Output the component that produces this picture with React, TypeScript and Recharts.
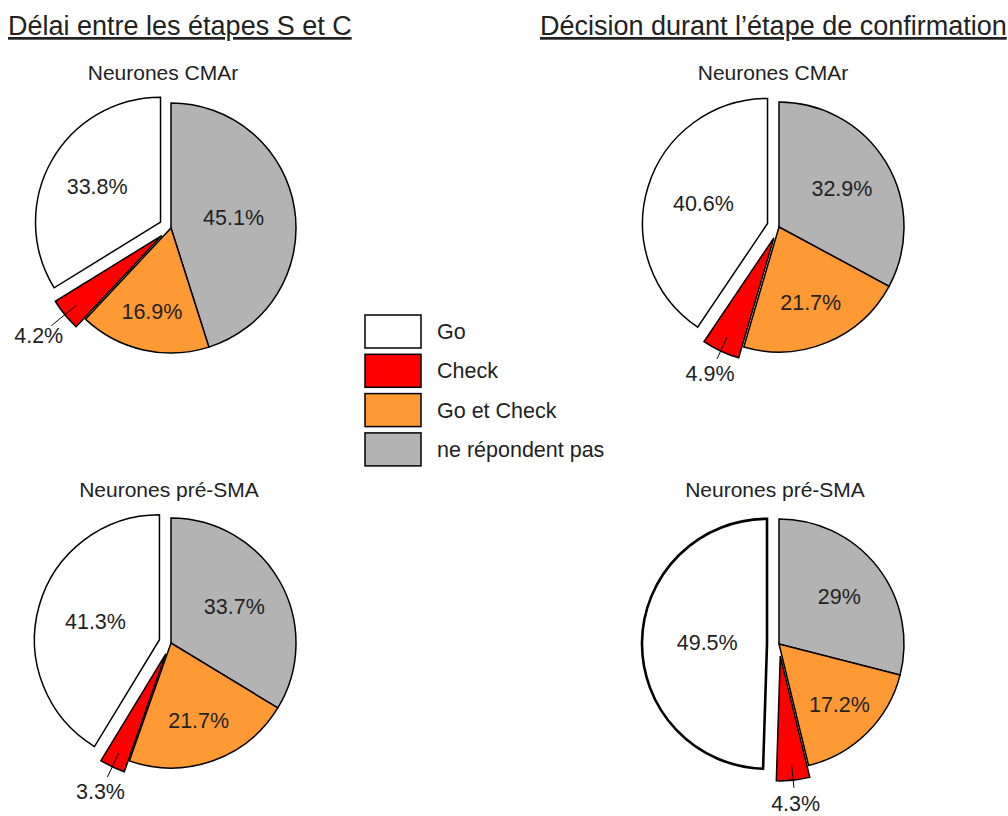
import React from "react";
import { PieChart, Pie, Cell } from "recharts";

// ---- Data ----
const legendCategories = ["Go", "Check", "Go et Check", "ne répondent pas"];
const sliceOrder = ["ne répondent pas", "Go et Check", "Check", "Go"];
const delaiCMAr = [45.1, 16.9, 4.2, 33.8];
const delaiPreSMA = [33.7, 21.7, 3.3, 41.3];
const decisionCMAr = [32.9, 21.7, 4.9, 40.6];
const decisionPreSMA = [29, 17.2, 4.3, 49.5];
const sectionTitles = ["Délai entre les étapes S et C", "Décision durant l’étape de confirmation"];
const chartTitles = ["Neurones CMAr", "Neurones pré-SMA"];
const explodedSlices = ["Go", "Check"];

// ---- Styles ----
const colorOf: Record<string, string> = {
  Go: "#ffffff",
  Check: "#ff0000",
  "Go et Check": "#ff9933",
  "ne répondent pas": "#b3b3b3",
};
const FONT = "'Liberation Sans', Arial, Helvetica, sans-serif";
const TEXT = "#222222";
const R = 125;
const EXPLODE = 12;
const RAD = Math.PI / 180;
const LABEL_SIZE = 21.5;

const layout = [
  { values: delaiCMAr, title: chartTitles[0], cx: 171, cy: 228, tx: 163, ty: 80, goStroke: 1.5, outR: 1.27 },
  { values: decisionCMAr, title: chartTitles[0], cx: 779, cy: 227, tx: 773, ty: 80, goStroke: 1.5, outR: 1.2 },
  { values: delaiPreSMA, title: chartTitles[1], cx: 171, cy: 643, tx: 169, ty: 497, goStroke: 1.5, outR: 1.22 },
  { values: decisionPreSMA, title: chartTitles[1], cx: 779, cy: 644, tx: 775, ty: 497, goStroke: 2.6, outR: 1.19 },
];

function fmt(v: number) {
  return `${v}%`;
}

function makeLabel(visible: string[], outR: number) {
  return (props: any) => {
    const { cx, cy, midAngle, outerRadius, payload, index } = props;
    const name = payload?.name ?? sliceOrder[index];
    const value = payload?.value ?? props.value;
    if (!visible.includes(name)) return null;
    const cos = Math.cos(-midAngle * RAD);
    const sin = Math.sin(-midAngle * RAD);
    if (value < 10) {
      const r1 = outerRadius * 0.88;
      const r2 = outerRadius * (outR - 0.13);
      const r3 = outerRadius * outR;
      return (
        <g key={`lbl-${index}`}>
          <line
            x1={cx + r1 * cos}
            y1={cy + r1 * sin}
            x2={cx + r2 * cos}
            y2={cy + r2 * sin}
            stroke="#000"
            strokeWidth={1}
          />
          <text
            x={cx + r3 * cos}
            y={cy + r3 * sin}
            textAnchor="middle"
            dominantBaseline="central"
            fontFamily={FONT}
            fontSize={LABEL_SIZE}
            fill={TEXT}
          >
            {fmt(value)}
          </text>
        </g>
      );
    }
    const frac = 0.8 - 0.0065 * value;
    const r = outerRadius * frac;
    return (
      <text
        key={`lbl-${index}`}
        x={cx + r * cos}
        y={cy + r * sin}
        textAnchor="middle"
        dominantBaseline="central"
        fontFamily={FONT}
        fontSize={LABEL_SIZE}
        fill={TEXT}
      >
        {fmt(value)}
      </text>
    );
  };
}

function offsetFor(values: number[], idx: number) {
  const total = values.reduce((a, b) => a + b, 0);
  let cum = 0;
  for (let i = 0; i < idx; i++) cum += values[i];
  const mid = (cum + values[idx] / 2) / total;
  const ang = (90 - 360 * mid) * RAD;
  return { dx: Math.cos(ang) * EXPLODE, dy: -Math.sin(ang) * EXPLODE };
}

export default function App() {
  const pies: React.ReactNode[] = [];
  layout.forEach((c, ci) => {
    const rows = sliceOrder.map((name, i) => ({ name, value: c.values[i] }));
    const groups: { visible: string[]; dx: number; dy: number }[] = [
      { visible: sliceOrder.filter((n) => !explodedSlices.includes(n)), dx: 0, dy: 0 },
      ...explodedSlices.map((n) => {
        const o = offsetFor(c.values, sliceOrder.indexOf(n));
        return { visible: [n], dx: o.dx, dy: o.dy };
      }),
    ];
    groups.forEach((g, gi) => {
      pies.push(
        <Pie
          key={`pie-${ci}-${gi}`}
          data={rows}
          dataKey="value"
          nameKey="name"
          cx={c.cx + g.dx}
          cy={c.cy + g.dy}
          outerRadius={R}
          innerRadius={0}
          startAngle={90}
          endAngle={-270}
          isAnimationActive={false}
          label={makeLabel(g.visible, c.outR)}
          labelLine={false}
        >
          {rows.map((row, i) => {
            const vis = g.visible.includes(row.name);
            return (
              <Cell
                key={`cell-${i}`}
                fill={vis ? colorOf[row.name] : "none"}
                stroke={vis ? "#000" : "none"}
                strokeWidth={vis ? (row.name === "Go" ? c.goStroke : 1.5) : 0}
              />
            );
          })}
        </Pie>
      );
    });
  });

  return (
    <div style={{ position: "absolute", left: 0, top: 0, width: 1008, height: 816, background: "#fff" }}>
      <PieChart width={1008} height={816} margin={{ top: 0, right: 0, bottom: 0, left: 0 }}>
        {pies}
      </PieChart>
      <svg
        width={1008}
        height={816}
        style={{ position: "absolute", left: 0, top: 0, pointerEvents: "none" }}
      >
        <text x={8} y={35} fontFamily={FONT} fontSize={27} fill={TEXT} textDecoration="underline">
          {sectionTitles[0]}
        </text>
        <text x={540} y={35} fontFamily={FONT} fontSize={27} fill={TEXT} textDecoration="underline">
          {sectionTitles[1]}
        </text>
        {layout.map((c, i) => (
          <text
            key={`t-${i}`}
            x={c.tx}
            y={c.ty}
            textAnchor="middle"
            fontFamily={FONT}
            fontSize={21}
            fill={TEXT}
          >
            {c.title}
          </text>
        ))}
        {legendCategories.map((name, i) => (
          <g key={`lg-${i}`}>
            <rect
              x={365}
              y={315 + i * 39.3}
              width={56}
              height={33}
              fill={colorOf[name]}
              stroke="#000"
              strokeWidth={1.5}
            />
            <text x={437} y={315 + i * 39.3 + 24} fontFamily={FONT} fontSize={21.5} fill={TEXT}>
              {name}
            </text>
          </g>
        ))}
      </svg>
    </div>
  );
}
